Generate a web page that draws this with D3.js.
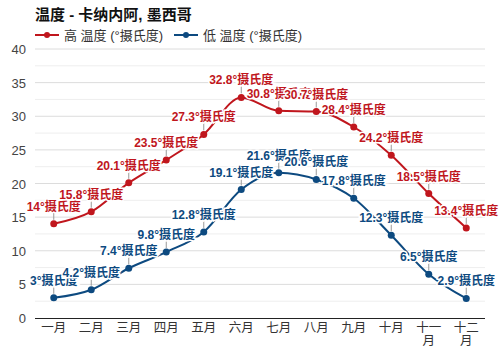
<!DOCTYPE html>
<html><head><meta charset="utf-8">
<script src="https://cdn.jsdelivr.net/npm/d3@7"></script>
<style>body{margin:0;background:#fff}svg{display:block}</style>
</head><body>
<script>
const months = ["一月","二月","三月","四月","五月","六月","七月","八月","九月","十月","十一月","十二月"];
const highTemps = [14, 15.8, 20.1, 23.5, 27.3, 32.8, 30.8, 30.7, 28.4, 24.2, 18.5, 13.4];
const lowTemps = [3, 4.2, 7.4, 9.8, 12.8, 19.1, 21.6, 20.6, 17.8, 12.3, 6.5, 2.9];
const yTicks = [0,5,10,15,20,25,30,35,40];
const seriesNames = ["高 温度 (°摄氏度)", "低 温度 (°摄氏度)"];
const title = "温度 - 卡纳内阿, 墨西哥";

const W=500,H=350;
const red="#c0161d", blue="#0d4a80";
const svg=d3.select("body").append("svg").attr("width",W).attr("height",H);
const font="Liberation Sans, Arial, 'Noto Sans CJK SC', sans-serif";
const x=d3.scaleBand().domain(months).range([35,485]);
const y=d3.scaleLinear().domain([0,40]).range([318,49]);

// grid
const minor=d3.range(2.5,40,5);
svg.append("g").selectAll("line").data(minor).join("line")
 .attr("x1",35).attr("x2",485).attr("y1",d=>y(d)).attr("y2",d=>y(d))
 .attr("stroke","#eeeeee").attr("stroke-width",1);
svg.append("g").selectAll("line").data(yTicks.filter(d=>d>0)).join("line")
 .attr("x1",35).attr("x2",485).attr("y1",d=>y(d)).attr("y2",d=>y(d))
 .attr("stroke","#dcdcdc").attr("stroke-width",1);
svg.append("line").attr("x1",35).attr("x2",485).attr("y1",y(0)+0.5).attr("y2",y(0)+0.5)
 .attr("stroke","#222").attr("stroke-width",1.2);

// y labels
svg.append("g").selectAll("text").data(yTicks).join("text")
 .attr("x",26).attr("y",d=>y(d)+5).attr("text-anchor","end")
 .attr("font-family",font).attr("font-size",13).attr("fill","#444").text(d=>d);

// x labels
const xl=svg.append("g").selectAll("text").data(months).join("text")
 .attr("x",d=>x(d)+x.bandwidth()/2).attr("y",332).attr("text-anchor","middle")
 .attr("font-family",font).attr("font-size",12.5).attr("fill","#333");
xl.each(function(d){
  const t=d3.select(this);
  if(d.length>2){
    t.append("tspan").attr("x",x(d)+x.bandwidth()/2).attr("dy",0).text(d.slice(0,2));
    t.append("tspan").attr("x",x(d)+x.bandwidth()/2).attr("dy",13).text(d.slice(2));
  } else t.text(d);
});

// title
svg.append("text").attr("x",35).attr("y",20).attr("font-family",font).attr("font-weight","bold")
 .attr("font-size",15).attr("fill","#111").text(title);

// legend
const leg=[[35,red,seriesNames[0]],[174,blue,seriesNames[1]]];
leg.forEach(([lx,c,n])=>{
  svg.append("line").attr("x1",lx).attr("x2",lx+24).attr("y1",35).attr("y2",35).attr("stroke",c).attr("stroke-width",2);
  svg.append("circle").attr("cx",lx+12).attr("cy",35).attr("r",3).attr("fill",c);
  svg.append("text").attr("x",lx+29).attr("y",39.5).attr("font-family",font).attr("font-size",13)
   .attr("fill","#333").text(n);
});

const line=d3.line().x((d,i)=>x(months[i])+x.bandwidth()/2).y(d=>y(d)).curve(d3.curveMonotoneX);
function series(vals,c){
  const g=svg.append("g");
  g.append("path").attr("d",line(vals)).attr("fill","none").attr("stroke",c).attr("stroke-width",2);
  g.selectAll("circle").data(vals).join("circle")
   .attr("cx",(d,i)=>x(months[i])+x.bandwidth()/2).attr("cy",d=>y(d)).attr("r",3.5).attr("fill",c);
  return g;
}
series(highTemps,red);
series(lowTemps,blue);
function labels(vals,c){
  const g=svg.append("g");
  g.selectAll("line").data(vals).join("line")
   .attr("x1",(d,i)=>x(months[i])+x.bandwidth()/2).attr("x2",(d,i)=>x(months[i])+x.bandwidth()/2)
   .attr("y1",d=>y(d)-4).attr("y2",d=>y(d)-12).attr("stroke","#999").attr("stroke-width",1);
  g.selectAll("text").data(vals).join("text")
   .attr("x",(d,i)=>x(months[i])+x.bandwidth()/2).attr("y",d=>y(d)-13)
   .attr("text-anchor","middle").attr("font-family",font).attr("font-weight","bold").attr("font-size",12)
   .attr("fill",c).attr("stroke","#fff").attr("stroke-width",3).attr("paint-order","stroke")
   .text(d=>d+"°摄氏度");
}
labels(highTemps,red);
labels(lowTemps,blue);
</script>
</body></html>
